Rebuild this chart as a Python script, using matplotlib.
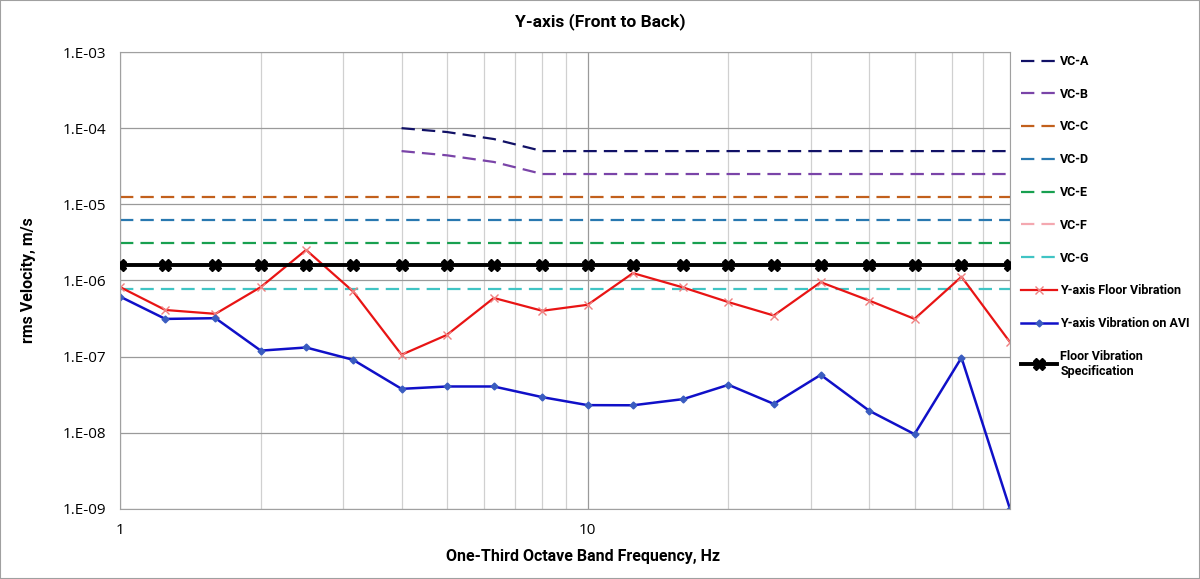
import matplotlib
matplotlib.use("Agg")
import matplotlib.pyplot as plt
from matplotlib.patches import Rectangle
from matplotlib.ticker import LogLocator, FixedLocator, NullFormatter

# one-third octave band centre frequencies, Hz
freq = [1, 1.25, 1.6, 2, 2.5, 3.15, 4, 5, 6.3, 8, 10, 12.5, 16, 20, 25, 31.5, 40, 50, 63, 80]
freq_ab = [4, 5, 6.3, 8, 10, 12.5, 16, 20, 25, 31.5, 40, 50, 63, 80]

# VC criteria, m/s
vc_a = [1.0e-4, 8.9e-5, 7.2e-5, 5.0e-5] + [5.0e-5] * 10
vc_b = [5.0e-5, 4.4e-5, 3.6e-5, 2.5e-5] + [2.5e-5] * 10
vc_c = [1.25e-5] * 20
vc_d = [6.25e-6] * 20
vc_e = [3.12e-6] * 20
vc_f = [1.6e-6] * 20
vc_g = [7.8e-7] * 20

floor_y = [8.2e-7, 4.1e-7, 3.65e-7, 8.2e-7, 2.52e-6, 7.2e-7, 1.06e-7, 1.93e-7, 5.9e-7, 4.0e-7,
           4.8e-7, 1.25e-6, 8.1e-7, 5.2e-7, 3.47e-7, 9.5e-7, 5.45e-7, 3.13e-7, 1.12e-6, 1.55e-7]
avi_y = [6.15e-7, 3.13e-7, 3.2e-7, 1.2e-7, 1.32e-7, 9.1e-8, 3.78e-8, 4.06e-8, 4.06e-8, 2.94e-8,
         2.31e-8, 2.3e-8, 2.77e-8, 4.27e-8, 2.4e-8, 5.77e-8, 1.95e-8, 9.6e-9, 9.7e-8, 1.0e-9]
spec = [1.6e-6] * 20

narrow = ["Roboto", "DejaVu Sans"]

fig = plt.figure(figsize=(12, 5.79), dpi=100)
ax = fig.add_axes([120 / 1200, 1 - 509 / 579, 890 / 1200, 457 / 579])

dash = (6, 3.2)
ax.plot(freq_ab, vc_a, color="#111166", lw=1.6, dashes=dash, label="VC-A")
ax.plot(freq_ab, vc_b, color="#7a44a8", lw=1.6, dashes=dash, label="VC-B")
ax.plot(freq, vc_c, color="#c2601c", lw=1.6, dashes=dash, label="VC-C")
ax.plot(freq, vc_d, color="#2878b0", lw=1.6, dashes=dash, label="VC-D")
ax.plot(freq, vc_e, color="#18a050", lw=1.6, dashes=dash, label="VC-E")
ax.plot(freq, vc_f, color="#f4a8b0", lw=1.6, dashes=dash, label="VC-F")
ax.plot(freq, vc_g, color="#40c4c4", lw=1.6, dashes=dash, label="VC-G")
ax.plot(freq, floor_y, color="#e81414", lw=1.6, marker="x", ms=6, mec="#f08080", mew=1,
        label="Y-axis Floor Vibration")
ax.plot(freq, avi_y, color="#1010c8", lw=1.8, marker="D", ms=3.5, mfc="#3a5cc0", mec="#3a5cc0",
        label="Y-axis Vibration on AVI")
ax.plot(freq, spec, color="black", lw=2.8, marker="X", ms=9, label="Floor Vibration\nSpecification",
        zorder=5)

ax.set_xscale("log")
ax.set_yscale("log")
ax.set_xlim(1, 80)
ax.set_ylim(1e-9, 1e-3)

ax.xaxis.set_major_locator(FixedLocator([1, 10]))
ax.xaxis.set_minor_locator(LogLocator(base=10, subs=range(2, 10)))
ax.xaxis.set_minor_formatter(NullFormatter())
ax.set_xticklabels(["1", "10"])
ax.set_yticks([1e-9, 1e-8, 1e-7, 1e-6, 1e-5, 1e-4, 1e-3])
ax.yaxis.set_minor_locator(FixedLocator([]))
ax.set_yticklabels(["1.E-09", "1.E-08", "1.E-07", "1.E-06", "1.E-05", "1.E-04", "1.E-03"])

ax.grid(True, which="major", color="#9a9a9a", lw=0.9)
ax.grid(True, which="minor", axis="x", color="#d0d0d0", lw=0.9)
ax.set_axisbelow(True)
for s in ax.spines.values():
    s.set_color("#a0a0a0")
ax.tick_params(which="both", length=0, labelsize=11, pad=10)
for lab in ax.get_xticklabels() + ax.get_yticklabels():
    lab.set_family(["Open Sans", "DejaVu Sans"])

fig.text(600 / 1200, 1 - 22 / 579, "Y-axis (Front to Back)", ha="center", va="center",
         fontsize=12.5, fontweight="bold", family=narrow)
fig.text(583 / 1200, 1 - 556 / 579, "One-Third Octave Band Frequency, Hz", ha="center", va="center",
         fontsize=11.5, fontweight="bold", family=narrow)
fig.text(28 / 1200, 1 - 280 / 579, "rms Velocity, m/s", ha="center", va="center", rotation=90,
         fontsize=11.5, fontweight="bold", family=narrow)

leg = fig.legend(loc="upper left", bbox_to_anchor=(1016 / 1200, 1 - 50 / 579), frameon=False,
                 handlelength=2.9, handletextpad=0.25, labelspacing=1.58, borderaxespad=0,
                 numpoints=1, prop={"family": narrow, "weight": "bold", "size": 9})

fig.patches.append(Rectangle((0, 0), 1, 1, transform=fig.transFigure, fill=False,
                             edgecolor="#a0a0a0", lw=1.5))

fig.savefig("out.png", dpi=100)
